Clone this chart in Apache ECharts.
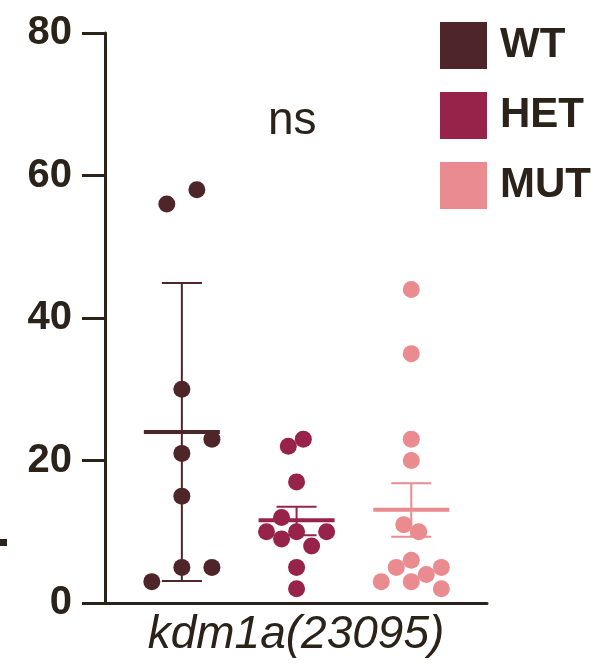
<!DOCTYPE html>
<html>
<head>
<meta charset="utf-8">
<script src="https://cdn.jsdelivr.net/npm/echarts@6/dist/echarts.min.js"></script>
<style>
html,body{margin:0;padding:0;background:#fff;}
#chart{width:601px;height:667px;}
</style>
</head>
<body>
<div id="chart"></div>
<script>
// ---- data ----
var groups = ['WT', 'HET', 'MUT'];
var wtValues  = [56, 58, 30, 23, 21, 15, 5, 5, 3];
var hetValues = [23, 22, 17, 12, 10, 10, 10, 9, 8, 5, 2];
var mutValues = [44, 35, 23, 20, 11, 10, 6, 5, 5, 4, 3, 3, 2];
// beeswarm lanes (layout only)
var wtLanes  = [-1, 1, 0, 2, 0, 0, 0, 2, -2];
var hetLanes = [0.45, -0.55, 0, -1, -2, 0, 2, -1, 1, 0, 0];
var mutLanes = [0, 0, 0, 0, -0.5, 0.5, 0, -1, 2, 1, -2, 0, 2];
// summary lines
var means   = [24, 11.6, 13.1];
var errLow  = [3.1, 9.5, 9.3];
var errHigh = [44.9, 13.5, 16.8];
var yTicks = [0, 20, 40, 60, 80];
var xLabel = 'kdm1a(23095)';
var sigLabel = 'ns';

var colors = ['#4e2629', '#97234b', '#e98b8f'];
var ink = '#2b2219';
var font = "'Liberation Sans', Arial, Helvetica, sans-serif";
var laneWidth = 0.131;

function pts(vals, lanes, gi) {
  return vals.map(function (v, i) { return [gi + 1 + lanes[i] * laneWidth, v]; });
}

var summary = groups.map(function (g, i) { return [i + 1, means[i], errLow[i], errHigh[i], i]; });

var chart = echarts.init(document.getElementById('chart'));
chart.setOption({
  animation: false,
  grid: { left: 105, right: 114, top: 33, bottom: 64 },
  legend: {
    data: groups,
    orient: 'vertical',
    left: 440, top: 22,
    itemWidth: 47, itemHeight: 47, itemGap: 23,
    icon: 'rect',
    padding: 0,
    textStyle: { fontSize: 42, fontWeight: 'bold', color: ink, fontFamily: font, padding: [0, 0, 0, 8] }
  },
  xAxis: {
    type: 'value', min: 0.33, max: 3.66,
    axisLine: { show: true, lineStyle: { color: ink, width: 3 } },
    axisTick: { show: false }, axisLabel: { show: false }, splitLine: { show: false },
    name: xLabel, nameLocation: 'middle', nameGap: 9,
    nameTextStyle: { fontSize: 46, fontStyle: 'italic', color: ink, fontFamily: font, verticalAlign: 'top' }
  },
  yAxis: {
    type: 'value', min: 0, max: 80, interval: 20,
    axisLine: { show: true, lineStyle: { color: ink, width: 3 } },
    axisTick: { show: true, length: 23, lineStyle: { color: ink, width: 3 } },
    axisLabel: { fontSize: 40, fontWeight: 'bold', color: ink, fontFamily: font, margin: 33,
      formatter: function (v) { return yTicks.indexOf(v) >= 0 ? String(v) : ''; } },
    splitLine: { show: false }
  },
  graphic: [
    { type: 'text', left: 268, top: 98, style: { text: sigLabel, fontSize: 46, fill: ink, fontFamily: font } },
    { type: 'rect', shape: { x: 0, y: 539, width: 7, height: 7 }, style: { fill: ink } }
  ],
  series: [
    { name: 'WT', type: 'scatter', symbolSize: 17, itemStyle: { color: colors[0], opacity: 1 }, data: pts(wtValues, wtLanes, 0) },
    { name: 'HET', type: 'scatter', symbolSize: 17, itemStyle: { color: colors[1], opacity: 1 }, data: pts(hetValues, hetLanes, 1) },
    { name: 'MUT', type: 'scatter', symbolSize: 17, itemStyle: { color: colors[2], opacity: 1 }, data: pts(mutValues, mutLanes, 2) },
    {
      name: 'summary', type: 'custom', z: 5,
      data: summary,
      renderItem: function (params, api) {
        var x = api.value(0), c = colors[api.value(4)];
        var pm = api.coord([x, api.value(1)]);
        var pl = api.coord([x, api.value(2)]);
        var ph = api.coord([x, api.value(3)]);
        var cap = 20, half = 38;
        var ls = { stroke: c, lineWidth: 2 };
        return { type: 'group', children: [
          { type: 'line', shape: { x1: pm[0], y1: pl[1], x2: pm[0], y2: ph[1] }, style: ls },
          { type: 'line', shape: { x1: pm[0] - cap, y1: pl[1], x2: pm[0] + cap, y2: pl[1] }, style: ls },
          { type: 'line', shape: { x1: pm[0] - cap, y1: ph[1], x2: pm[0] + cap, y2: ph[1] }, style: ls },
          { type: 'line', shape: { x1: pm[0] - half, y1: pm[1], x2: pm[0] + half, y2: pm[1] }, style: { stroke: c, lineWidth: 4 } }
        ] };
      }
    }
  ]
});
</script>
</body>
</html>
